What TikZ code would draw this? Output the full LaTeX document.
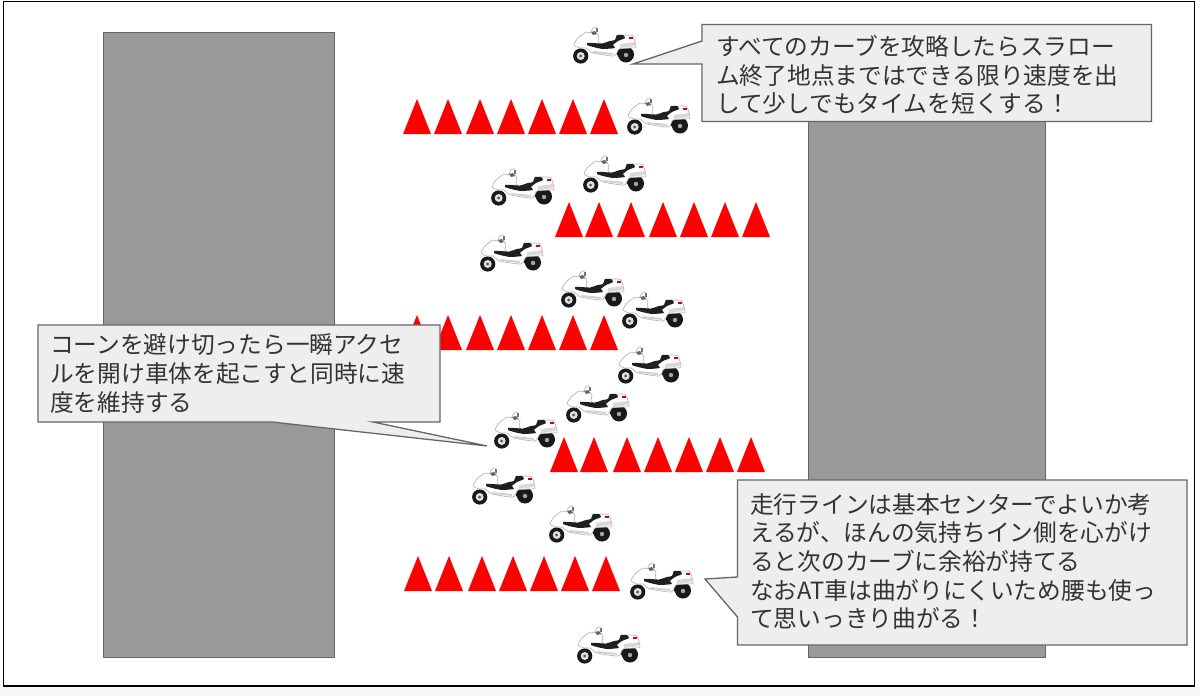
\documentclass[tikz,border=0pt]{standalone}
\usepackage{fontspec}
\newfontfamily\cjkfont{Noto Sans CJK JP}
\definecolor{roadgray}{HTML}{999999}
\definecolor{edgegray}{HTML}{666666}
\definecolor{boxgray}{HTML}{EEEEEE}
\definecolor{textgray}{HTML}{333333}
\definecolor{stripgray}{HTML}{F6F7F9}
\tikzset{
  road/.style={fill=roadgray,draw=edgegray,line width=1pt},
  cone/.style={fill=red},
  callout/.style={fill=boxgray,draw=edgegray,line width=1.3pt,line join=miter},
  calltext/.style={anchor=west,inner sep=0pt,align=left,text=textgray,
    font=\cjkfont\fontsize{23.7}{28.7}\selectfont},
  bike/.pic={
    \fill[black!90] (-23.3,11) circle (7.6);
    \fill[black!12] (-23.3,11) circle (4);
    \fill[black!70] (-23.3,11) circle (1.5);
    \fill[black!90] (22,9.5) circle (8);
    \fill[black!90] (10,5) -- (20,2) -- (22,17) -- (16,14) -- cycle;
    \fill[black!35] (22,10) circle (2.2);
    \filldraw[fill=white,draw=black!28,line width=0.7pt] plot[smooth cycle,tension=0.35] coordinates {
      (-30,0) (-26,-7) (-18,-13) (-14,-12) (-11,-17) (-8,-18) (-7,-12) (-5,-8) (-6,-3)
      (-2,0) (10,-4) (14,-9) (22,-10) (29,-9) (32,2) (26,3) (15,4) (10,11) (-11,8)
      (-18,3) (-24,3)};
    \fill[black!88] plot[smooth cycle,tension=0.3] coordinates {
      (-2,-1.5) (6,-4) (11,-5) (13,-10) (19,-10) (21,-7) (14,-4) (9,0) (11,3) (-1,4)
      (-11,2) (-17,0) (-17,-2) (-11,-2)};
    \fill[black!60] (-13,-13) -- (-9,-14) -- (-7,-11) -- (-11,-10) -- cycle;
    \fill[black!55] (-8,-17) -- (-6,-17) -- (-6,-13) -- (-8,-13) -- cycle;
    \fill[black!18] (-11,6) -- (9,8) -- (9,10) -- (-10,8) -- cycle;
    \fill[black!15] (16,-1) -- (31,-3) -- (31,1) -- (16,3) -- cycle;
    \fill[red!85!black] (25,-8.5) rectangle (29,-6.5);
  }
}
\begin{document}
\begin{tikzpicture}[x=1pt,y=-1pt]
  \useasboundingbox (0,0) rectangle (1200,696);
  \fill[stripgray] (0,687) rectangle (1200,696);
  \draw[black,line width=1.3pt,fill=white] (3.5,1.5) rectangle (1194.5,686);
  \draw[road] (103.5,32.5) rectangle (334,657);
  \draw[road] (808,100) rectangle (1045,657.5);
  \foreach \cy/\cxlist in {134/{417,448,480,511,542,573,604},
    237/{569,599,631,663,694,725,756},
    350/{417,448,480,511,542,573,604},
    472/{564,594,627,658,689,720,751},
    591/{418,449,482,513,544,575,606}}
    \foreach \cx in \cxlist
      \fill[cone] (\cx-14,\cy) -- (\cx,\cy-35) -- (\cx+14,\cy) -- cycle;
  \foreach \bx/\by in {604/45,658/116,522/187,614/174,511/253,592/289,653/310,
    649/365,597/404,525/430,503/486,580/524,661/581,608/645}
    \path (\bx,\by) pic {bike};
  \coordinate (tipA) at (633,64);
  \coordinate (tipB) at (487,446);
  \coordinate (tipC) at (705,579);
  \draw[callout] (702,24.5) -- (1151.5,24.5) -- (1151.5,121.5) -- (702,121.5)
    -- (702,64) -- (tipA) -- (702,41) -- cycle;
  \draw[callout] (38,325) -- (440,325) -- (440,422) -- (373,422) -- (tipB)
    -- (272,422) -- (38,422) -- cycle;
  \draw[callout] (737.5,480) -- (1187,480) -- (1187,645) -- (737.5,645)
    -- (737.5,617) -- (tipC) -- (737.5,577) -- cycle;
  \node[calltext] (textA) at (716,75) {すべてのカーブを攻略したらスラロー\\ム終了地点まではできる限り速度を出\\して少しでもタイムを短くする！};
  \node[calltext] (textB) at (50,373.5) {コーンを避け切ったら一瞬アクセ\\ルを開け車体を起こすと同時に速\\度を維持する};
  \node[calltext] (textC) at (750,561.5) {走行ラインは基本センターでよいか考\\えるが、ほんの気持ちイン側を心がけ\\ると次のカーブに余裕が持てる\\なおAT車は曲がりにくいため腰も使っ\\て思いっきり曲がる！};
\end{tikzpicture}
\end{document}
